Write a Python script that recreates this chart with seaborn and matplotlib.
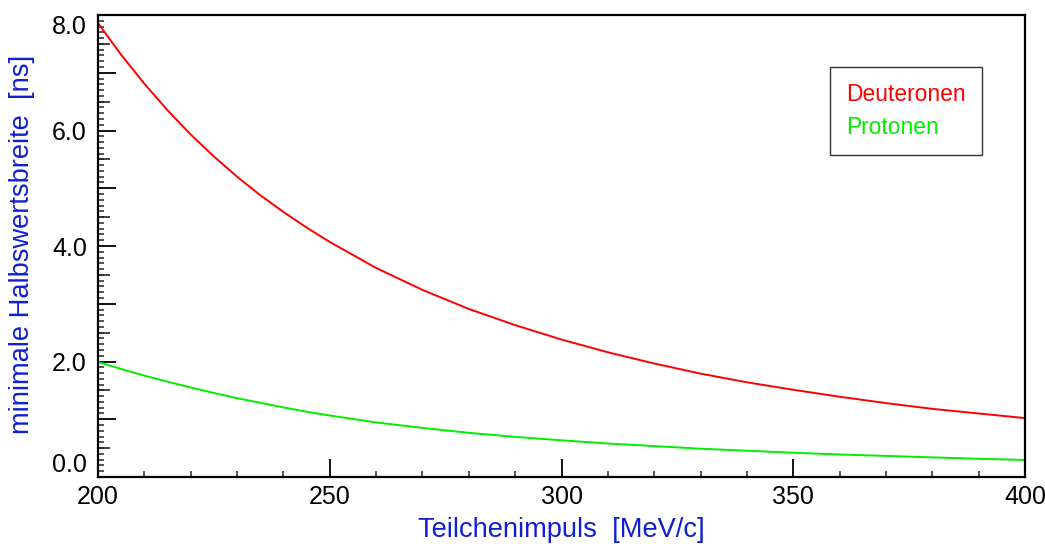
import numpy as np
import pandas as pd
import matplotlib
matplotlib.use("Agg")
import matplotlib.pyplot as plt
from matplotlib.ticker import MultipleLocator, FuncFormatter
import seaborn as sns

# --- data ---
momentum = [200, 205, 210, 215, 220, 225, 230, 235, 240, 245, 250, 260, 270, 280, 290, 300,
            310, 320, 330, 340, 350, 360, 370, 380, 390, 400]
deuteronen = [7.86, 7.31, 6.81, 6.35, 5.93, 5.55, 5.20, 4.88, 4.59, 4.32, 4.07,
              3.62, 3.24, 2.91, 2.63, 2.38,
              2.16, 1.965, 1.79, 1.64, 1.51, 1.39, 1.28, 1.18, 1.10, 1.02]
protonen = [1.99, 1.87, 1.755, 1.65, 1.55, 1.455, 1.365, 1.285, 1.205, 1.13, 1.065,
            0.945, 0.85, 0.765, 0.695, 0.635,
            0.58, 0.535, 0.49, 0.455, 0.42, 0.39, 0.365, 0.34, 0.315, 0.295]
series_names = ["Deuteronen", "Protonen"]
series_colors = ["#ff0000", "#00ee00"]
x_label = "Teilchenimpuls  [MeV/c]"
y_label = "minimale Halbswertsbreite  [ns]"

df = pd.DataFrame({
    "p": momentum * 2,
    "w": deuteronen + protonen,
    "s": [series_names[0]] * len(momentum) + [series_names[1]] * len(momentum),
})

sns.set_style("white")
plt.rcParams["font.family"] = ["Liberation Sans", "DejaVu Sans"]

fig = plt.figure(figsize=(10.45, 5.44), dpi=100)
ax = fig.add_axes([98 / 1045, 1 - 477 / 544, (1025 - 98) / 1045, (477 - 15) / 544])

sns.lineplot(data=df, x="p", y="w", hue="s", palette=series_colors,
             linewidth=1.4, ax=ax, legend=True)

ax.set_xlim(200, 400)
ax.set_ylim(0, 8)

for sp in ax.spines.values():
    sp.set_visible(True)
    sp.set_color("black")
    sp.set_linewidth(1.6)

ax.xaxis.set_major_locator(MultipleLocator(50))
ax.xaxis.set_minor_locator(MultipleLocator(10))
ax.yaxis.set_major_locator(MultipleLocator(1))
ax.yaxis.set_minor_locator(MultipleLocator(0.1))
ax.yaxis.set_major_formatter(FuncFormatter(
    lambda v, pos: f"{v:.1f}" if abs(v / 2 - round(v / 2)) < 1e-6 else ""))

ax.tick_params(axis="both", which="major", direction="in", length=13, width=1.3,
               labelsize=18, colors="black", bottom=True, left=True, top=False, right=False)
ax.tick_params(axis="both", which="minor", direction="in", length=4.5, width=1.1,
               bottom=True, left=True, top=False, right=False)
ax.tick_params(axis="y", which="major", pad=8)
ax.tick_params(axis="x", which="major", pad=6)

# medium ticks every 0.5
sec = ax.secondary_yaxis("left")
sec.set_yticks(np.arange(0.5, 8.0, 1.0))
sec.tick_params(direction="in", length=8.6, width=1.2, left=True, labelleft=False)
sec.spines["left"].set_visible(False)

ax.set_xlabel(x_label, color="#1020d0", fontsize=19.6)
ax.set_ylabel(y_label, color="#1020d0", fontsize=19.6)
ax.xaxis.set_label_coords(0.5, -(530 - 477) / 462, transform=ax.transAxes)
ax.yaxis.set_label_coords(-(98 - 22) / 927, (477 - 244) / 462, transform=ax.transAxes)
ax.xaxis.label.set_va("center")
ax.yaxis.label.set_va("center")

leg = ax.legend(loc="upper left", bbox_to_anchor=((830 - 98) / 927, (477 - 67) / 462),
                frameon=True, fancybox=False, edgecolor="black", fontsize=16.4,
                handlelength=0, handletextpad=0, borderpad=0.7, labelspacing=0.45,
                borderaxespad=0)
leg.get_frame().set_linewidth(1.0)
for h in leg.legend_handles:
    h.set_visible(False)
for t, c in zip(leg.get_texts(), series_colors):
    t.set_color(c)

fig.canvas.draw()
for tick in ax.yaxis.get_major_ticks():
    v = tick.get_loc()
    if abs(v - 0) < 1e-6:
        tick.label1.set_va("bottom")
    elif abs(v - 8) < 1e-6:
        tick.label1.set_va("top")

fig.savefig("out.png", dpi=100)
